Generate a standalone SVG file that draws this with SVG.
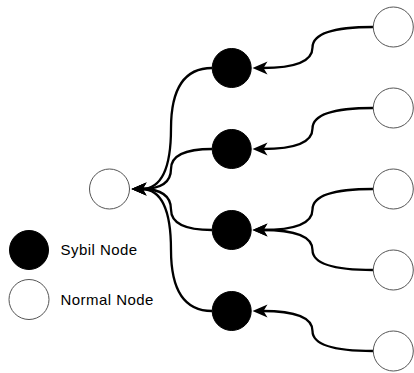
<svg xmlns="http://www.w3.org/2000/svg" width="414" height="373" viewBox="0 0 414 373">
  <style>
    .normal { fill: #ffffff; stroke: #555555; stroke-width: 1; }
    .sybil { fill: #000000; stroke: #000000; stroke-width: 1; }
    .edge { fill: none; stroke: #000000; stroke-width: 2.3; }
    .label { font-family: "Liberation Sans", Arial, sans-serif; font-size: 15px; letter-spacing: 0.45px; fill: #000000; }
  </style>
  <defs>
    <marker id="arrow" markerUnits="userSpaceOnUse" markerWidth="18" markerHeight="16" viewBox="-7 -8 18 16" refX="0" refY="0" orient="auto" overflow="visible">
      <path d="M10,0 L-5,-6.5 L-1,0 L-5,6.5 Z" fill="#000000"/>
    </marker>
  </defs>

  <!-- connectors: curved orthogonal routes, arrows point left -->
  <g id="connectors">
    <!-- normal nodes into sybil nodes -->
    <path class="edge" marker-end="url(#arrow)" d="M373,27 Q312.5,27 312.5,47.5 Q312.5,68 262.5,68"/>
    <path class="edge" marker-end="url(#arrow)" d="M373,108 Q312.5,108 312.5,128.5 Q312.5,149 262.5,149"/>
    <path class="edge" marker-end="url(#arrow)" d="M373,189 Q312.5,189 312.5,209.5 Q312.5,230 262.5,230"/>
    <path class="edge" marker-end="url(#arrow)" d="M373,270 Q312.5,270 312.5,250 Q312.5,230 262.5,230"/>
    <path class="edge" marker-end="url(#arrow)" d="M373,351 Q312.5,351 312.5,331 Q312.5,311 262.5,311"/>
    <!-- sybil nodes into the target node -->
    <path class="edge" marker-end="url(#arrow)" d="M212,68 Q171,68 171,128.5 Q171,189 141.5,189"/>
    <path class="edge" marker-end="url(#arrow)" d="M212,149 Q171,149 171,169 Q171,189 141.5,189"/>
    <path class="edge" marker-end="url(#arrow)" d="M212,230 Q171,230 171,209.5 Q171,189 141.5,189"/>
    <path class="edge" marker-end="url(#arrow)" d="M212,311 Q171,311 171,250 Q171,189 141.5,189"/>
  </g>

  <!-- target node -->
  <g id="target"><circle class="normal" cx="109.5" cy="189" r="20"/></g>

  <!-- sybil nodes -->
  <g id="sybil1"><circle class="sybil" cx="231.7" cy="68" r="19.5"/></g>
  <g id="sybil2"><circle class="sybil" cx="231.7" cy="149" r="19.5"/></g>
  <g id="sybil3"><circle class="sybil" cx="231.7" cy="230" r="19.5"/></g>
  <g id="sybil4"><circle class="sybil" cx="231.7" cy="311" r="19.5"/></g>

  <!-- normal nodes -->
  <g id="normal1"><circle class="normal" cx="393.3" cy="27" r="20"/></g>
  <g id="normal2"><circle class="normal" cx="393.3" cy="108" r="20"/></g>
  <g id="normal3"><circle class="normal" cx="393.3" cy="189" r="20"/></g>
  <g id="normal4"><circle class="normal" cx="393.3" cy="270" r="20"/></g>
  <g id="normal5"><circle class="normal" cx="393.3" cy="351" r="20"/></g>

  <!-- legend -->
  <g id="legend-sybil">
    <circle class="sybil" cx="29" cy="250" r="19.5"/>
    <text class="label" x="60.5" y="255.3">Sybil Node</text>
  </g>
  <g id="legend-normal">
    <circle class="normal" cx="29" cy="299.5" r="20"/>
    <text class="label" x="60.5" y="304.5">Normal Node</text>
  </g>
</svg>
